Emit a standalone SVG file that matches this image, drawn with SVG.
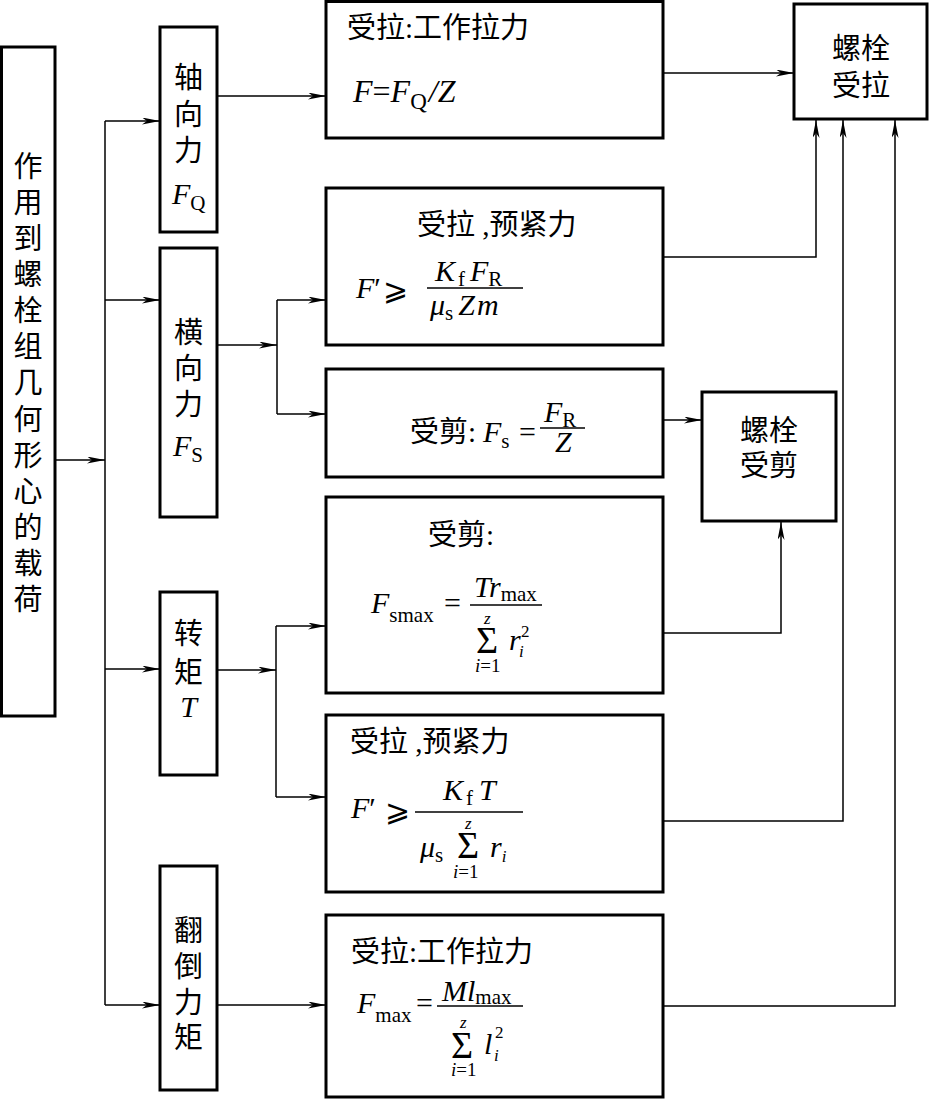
<svg xmlns="http://www.w3.org/2000/svg" width="929" height="1101" viewBox="0 0 929 1101">
<style>
.box{fill:#fff;stroke:#000;stroke-width:3}
.ln{fill:none;stroke:#000;stroke-width:1.5}
.cj{font-family:"Liberation Serif","Noto Sans CJK SC",serif;font-size:29px;fill:#000}
.cjm{font-family:"Liberation Serif","Noto Sans CJK SC",serif;font-size:29px;fill:#000;text-anchor:middle}
.m{font-family:"Liberation Serif",serif;font-size:30px;fill:#000}
.i{font-style:italic}
.sb{font-size:21px;font-style:normal}
.sm{font-size:17px}
.lim{font-size:19px}
.sg{font-family:"Liberation Serif",serif;font-size:38px;fill:#000}
.ge{font-family:"DejaVu Serif","DejaVu Sans",serif;font-size:30px;fill:#000}
</style>
<defs>
<marker id="ah" markerUnits="userSpaceOnUse" markerWidth="20" markerHeight="8" refX="18" refY="3.5" orient="auto">
<path d="M0,0 L18,3.5 L0,7 L5,3.5 z" fill="#000"/>
</marker>
</defs>

<g id="connectors">
<path class="ln" d="M55,460 H105" marker-end="url(#ah)"/>
<path class="ln" d="M105,121 V1005"/>
<path class="ln" d="M105,121 H160" marker-end="url(#ah)"/>
<path class="ln" d="M105,300 H160" marker-end="url(#ah)"/>
<path class="ln" d="M105,669 H160" marker-end="url(#ah)"/>
<path class="ln" d="M105,1005 H160" marker-end="url(#ah)"/>
<path class="ln" d="M217,96 H326" marker-end="url(#ah)"/>
<path class="ln" d="M217,345 H277" marker-end="url(#ah)"/>
<path class="ln" d="M277,300 V414"/>
<path class="ln" d="M277,300 H326" marker-end="url(#ah)"/>
<path class="ln" d="M277,414 H326" marker-end="url(#ah)"/>
<path class="ln" d="M217,670 H276" marker-end="url(#ah)"/>
<path class="ln" d="M276,626 V797"/>
<path class="ln" d="M276,626 H326" marker-end="url(#ah)"/>
<path class="ln" d="M276,797 H326" marker-end="url(#ah)"/>
<path class="ln" d="M217,1005 H326" marker-end="url(#ah)"/>
<path class="ln" d="M663,73 H794" marker-end="url(#ah)"/>
<path class="ln" d="M663,257 H816 V120" marker-end="url(#ah)"/>
<path class="ln" d="M663,420 H702" marker-end="url(#ah)"/>
<path class="ln" d="M663,633 H781 V522" marker-end="url(#ah)"/>
<path class="ln" d="M663,821 H843 V120" marker-end="url(#ah)"/>
<path class="ln" d="M663,1006 H895 V120" marker-end="url(#ah)"/>
</g>

<g id="load">
<rect class="box" x="1.5" y="47" width="53.5" height="669"/>
<text class="cjm" x="28" y="177">作</text>
<text class="cjm" x="28" y="213">用</text>
<text class="cjm" x="28" y="249">到</text>
<text class="cjm" x="28" y="285">螺</text>
<text class="cjm" x="28" y="321">栓</text>
<text class="cjm" x="28" y="357">组</text>
<text class="cjm" x="28" y="393">几</text>
<text class="cjm" x="28" y="430">何</text>
<text class="cjm" x="28" y="466">形</text>
<text class="cjm" x="28" y="502">心</text>
<text class="cjm" x="28" y="538">的</text>
<text class="cjm" x="28" y="574">载</text>
<text class="cjm" x="28" y="610">荷</text>
</g>

<g id="axial">
<rect class="box" x="160" y="27" width="57" height="205"/>
<text class="cjm" x="188.5" y="88">轴</text>
<text class="cjm" x="188.5" y="125">向</text>
<text class="cjm" x="188.5" y="161">力</text>
<text class="m" x="172" y="204"><tspan class="i">F</tspan><tspan class="sb" dy="6">Q</tspan></text>
</g>

<g id="transverse">
<rect class="box" x="160" y="248" width="57" height="269"/>
<text class="cjm" x="188.5" y="343">横</text>
<text class="cjm" x="188.5" y="379">向</text>
<text class="cjm" x="188.5" y="415">力</text>
<text class="m" x="173" y="456"><tspan class="i">F</tspan><tspan class="sb" dy="6">S</tspan></text>
</g>

<g id="torque">
<rect class="box" x="160" y="592" width="57" height="183"/>
<text class="cjm" x="188.5" y="644">转</text>
<text class="cjm" x="188.5" y="683">矩</text>
<text class="m i" x="188.5" y="717" text-anchor="middle">T</text>
</g>

<g id="overturn">
<rect class="box" x="160" y="866" width="57" height="224"/>
<text class="cjm" x="188.5" y="941">翻</text>
<text class="cjm" x="188.5" y="977">倒</text>
<text class="cjm" x="188.5" y="1013">力</text>
<text class="cjm" x="188.5" y="1048">矩</text>
</g>

<g id="b1">
<rect class="box" x="326" y="1.5" width="337" height="136.5"/>
<text class="cj" x="347" y="38">受拉:工作拉力</text>
<text class="m" x="353" y="102" style="font-size:32px"><tspan class="i">F</tspan>=<tspan class="i">F</tspan><tspan class="sb" dy="7" style="font-size:23px">Q</tspan><tspan class="i" dx="2" dy="-7">/Z</tspan></text>
</g>

<g id="b2">
<rect class="box" x="326" y="188" width="337" height="157"/>
<text class="cj" x="417" y="235">受拉 ,预紧力</text>
<text class="m" x="356" y="298"><tspan class="i">F</tspan>′</text>
<text class="ge" x="383" y="300">⩾</text>
<line class="ln" x1="427" y1="288" x2="523" y2="288"/>
<text class="m" x="435" y="281"><tspan class="i">K</tspan><tspan class="sb" dx="3" dy="5">f</tspan><tspan class="i" dx="5" dy="-5">F</tspan><tspan class="sb" dy="5">R</tspan></text>
<text class="m" x="430" y="315"><tspan class="i">μ</tspan><tspan class="sb" dy="5">s</tspan><tspan class="i" dx="5" dy="-5">Z</tspan><tspan class="i" dx="2">m</tspan></text>
</g>

<g id="b3">
<rect class="box" x="326" y="369" width="337" height="108"/>
<text class="cj" x="410" y="442">受剪:</text>
<text class="m" x="483" y="442"><tspan class="i">F</tspan><tspan class="sb" dy="6">s</tspan></text>
<text class="m" x="519" y="442">=</text>
<line class="ln" x1="540" y1="428" x2="585" y2="428"/>
<text class="m" x="544" y="422"><tspan class="i">F</tspan><tspan class="sb" dy="5">R</tspan></text>
<text class="m i" x="555" y="452">Z</text>
</g>

<g id="b4">
<rect class="box" x="326" y="497" width="337" height="196"/>
<text class="cj" x="428" y="545">受剪:</text>
<text class="m" x="371" y="613"><tspan class="i">F</tspan><tspan class="sb" dy="9">smax</tspan></text>
<text class="m" x="444" y="613">=</text>
<line class="ln" x1="470" y1="605" x2="542" y2="605"/>
<text class="m" x="474" y="597"><tspan class="i">Tr</tspan><tspan class="sb" dy="4">max</tspan></text>
<text class="m i sm" x="484" y="624">z</text>
<text class="sg" x="476" y="653">Σ</text>
<text class="m i" x="509" y="650">r</text>
<text class="m sm" x="521" y="637">2</text>
<text class="m i sm" x="519" y="657">i</text>
<text class="m lim" x="475" y="672"><tspan class="i">i</tspan>=1</text>
</g>

<g id="b5">
<rect class="box" x="326" y="715" width="337" height="177"/>
<text class="cj" x="350" y="752">受拉 ,预紧力</text>
<text class="m" x="351" y="818"><tspan class="i">F</tspan>′</text>
<text class="ge" x="385" y="821">⩾</text>
<line class="ln" x1="415" y1="812" x2="523" y2="812"/>
<text class="m" x="443" y="800"><tspan class="i">K</tspan><tspan class="sb" dx="3" dy="5">f</tspan><tspan class="i" dx="6" dy="-5">T</tspan></text>
<text class="m" x="420" y="857"><tspan class="i">μ</tspan><tspan class="sb" dy="5">s</tspan></text>
<text class="m i sm" x="465" y="829">z</text>
<text class="sg" x="457" y="858">Σ</text>
<text class="m" x="490" y="857"><tspan class="i">r</tspan><tspan class="i" style="font-size:17px" dy="5">i</tspan></text>
<text class="m lim" x="453" y="878"><tspan class="i">i</tspan>=1</text>
</g>

<g id="b6">
<rect class="box" x="326" y="915" width="337" height="182"/>
<text class="cj" x="351" y="962">受拉:工作拉力</text>
<text class="m" x="357" y="1013"><tspan class="i">F</tspan><tspan class="sb" dy="9">max</tspan></text>
<text class="m" x="416" y="1013">=</text>
<line class="ln" x1="437" y1="1006" x2="523" y2="1006"/>
<text class="m" x="442" y="1001"><tspan class="i">Ml</tspan><tspan class="sb" dy="3">max</tspan></text>
<text class="m i sm" x="460" y="1028">z</text>
<text class="sg" x="451" y="1058">Σ</text>
<text class="m i" x="484" y="1054">l</text>
<text class="m sm" x="495" y="1038">2</text>
<text class="m i sm" x="494" y="1061">i</text>
<text class="m lim" x="451" y="1076"><tspan class="i">i</tspan>=1</text>
</g>

<g id="tension">
<rect class="box" x="794" y="4" width="133" height="115"/>
<text class="cjm" x="861" y="59">螺栓</text>
<text class="cjm" x="861" y="96">受拉</text>
</g>

<g id="shear">
<rect class="box" x="702" y="392" width="134" height="129"/>
<text class="cjm" x="769" y="441">螺栓</text>
<text class="cjm" x="769" y="476">受剪</text>
</g>
</svg>
